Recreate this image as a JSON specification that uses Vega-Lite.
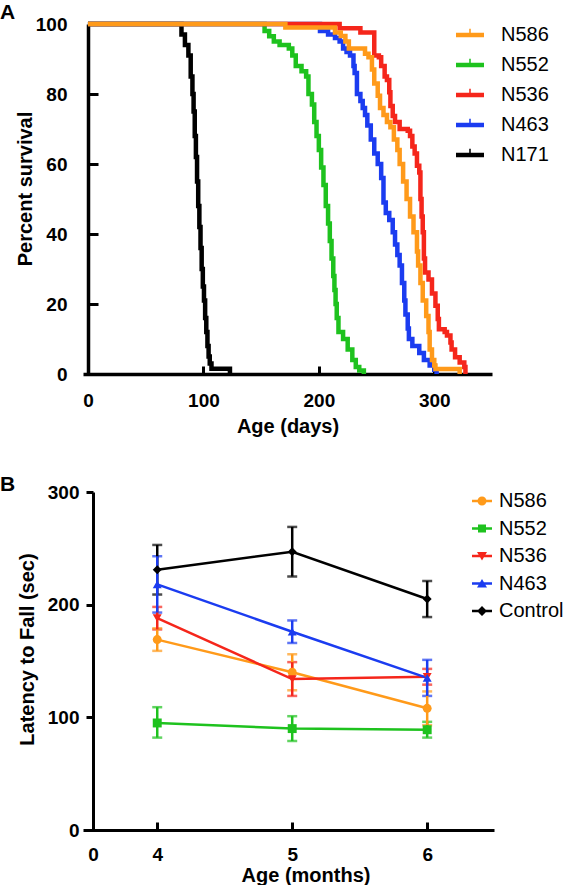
{
  "$schema": "https://vega.github.io/schema/vega-lite/v6.json",
  "padding": {"top": 2, "left": 0, "right": 0, "bottom": 0},
  "background": "white",
  "spacing": 37,
  "config": {
    "font": "Liberation Sans",
    "view": {"stroke": null},
    "axis": {"grid": false, "domainColor": "#000", "domainWidth": 3.5, "tickColor": "#000", "tickWidth": 3, "labelColor": "#000", "labelFont": "Liberation Sans", "labelFontSize": 19, "labelFontWeight": "bold", "titleColor": "#000", "titleFont": "Liberation Sans", "titleFontSize": 20, "titleFontWeight": "bold"},
    "legend": {"labelFont": "Liberation Sans", "labelFontSize": 20, "labelColor": "#000", "padding": 0},
    "title": {"font": "Liberation Sans", "fontSize": 21, "fontWeight": "bold", "color": "#000"}
  },
  "resolve": {"scale": {"color": "independent", "x": "independent", "y": "independent"}, "legend": {"color": "independent"}},
  "vconcat": [
    {
      "title": {"text": "A", "anchor": "start", "frame": "group", "dx": -83, "offset": -8},
      "width": 409,
      "height": 350,
      "data": {"values": [
        {"strain": "N171", "day": 0, "pct": 100}, {"strain": "N171", "day": 81, "pct": 97}, {"strain": "N171", "day": 84, "pct": 94}, {"strain": "N171", "day": 87, "pct": 91}, {"strain": "N171", "day": 89, "pct": 85}, {"strain": "N171", "day": 90.5, "pct": 80}, {"strain": "N171", "day": 91.5, "pct": 75}, {"strain": "N171", "day": 92.5, "pct": 68}, {"strain": "N171", "day": 93.5, "pct": 62}, {"strain": "N171", "day": 94.5, "pct": 55}, {"strain": "N171", "day": 95.5, "pct": 48}, {"strain": "N171", "day": 96.5, "pct": 42}, {"strain": "N171", "day": 97.5, "pct": 36}, {"strain": "N171", "day": 98.5, "pct": 30}, {"strain": "N171", "day": 99.5, "pct": 25}, {"strain": "N171", "day": 100.5, "pct": 21}, {"strain": "N171", "day": 101.5, "pct": 16}, {"strain": "N171", "day": 102.5, "pct": 12}, {"strain": "N171", "day": 103.5, "pct": 8}, {"strain": "N171", "day": 104.5, "pct": 5}, {"strain": "N171", "day": 105.5, "pct": 3}, {"strain": "N171", "day": 107, "pct": 1.5}, {"strain": "N171", "day": 123, "pct": 0},
        {"strain": "N552", "day": 0, "pct": 100}, {"strain": "N552", "day": 153, "pct": 98}, {"strain": "N552", "day": 157, "pct": 96.5}, {"strain": "N552", "day": 161, "pct": 95}, {"strain": "N552", "day": 166, "pct": 94}, {"strain": "N552", "day": 174, "pct": 93}, {"strain": "N552", "day": 177, "pct": 91}, {"strain": "N552", "day": 180, "pct": 88}, {"strain": "N552", "day": 185, "pct": 86.5}, {"strain": "N552", "day": 189, "pct": 85}, {"strain": "N552", "day": 191, "pct": 80}, {"strain": "N552", "day": 194, "pct": 77}, {"strain": "N552", "day": 196, "pct": 72}, {"strain": "N552", "day": 198, "pct": 68}, {"strain": "N552", "day": 200, "pct": 64}, {"strain": "N552", "day": 202, "pct": 59}, {"strain": "N552", "day": 204, "pct": 54}, {"strain": "N552", "day": 206, "pct": 48}, {"strain": "N552", "day": 208, "pct": 43}, {"strain": "N552", "day": 209.5, "pct": 38}, {"strain": "N552", "day": 211, "pct": 33}, {"strain": "N552", "day": 212.5, "pct": 28}, {"strain": "N552", "day": 213.5, "pct": 24}, {"strain": "N552", "day": 214.5, "pct": 20}, {"strain": "N552", "day": 215.5, "pct": 16}, {"strain": "N552", "day": 217, "pct": 12}, {"strain": "N552", "day": 221, "pct": 10}, {"strain": "N552", "day": 225, "pct": 7}, {"strain": "N552", "day": 229, "pct": 4}, {"strain": "N552", "day": 232, "pct": 2}, {"strain": "N552", "day": 235, "pct": 1}, {"strain": "N552", "day": 239, "pct": 0},
        {"strain": "N463", "day": 0, "pct": 100}, {"strain": "N463", "day": 201, "pct": 98}, {"strain": "N463", "day": 208, "pct": 97}, {"strain": "N463", "day": 214, "pct": 96}, {"strain": "N463", "day": 218, "pct": 95}, {"strain": "N463", "day": 221, "pct": 93}, {"strain": "N463", "day": 224, "pct": 92}, {"strain": "N463", "day": 227, "pct": 91}, {"strain": "N463", "day": 230, "pct": 88}, {"strain": "N463", "day": 231, "pct": 86}, {"strain": "N463", "day": 233, "pct": 80}, {"strain": "N463", "day": 236, "pct": 78}, {"strain": "N463", "day": 238, "pct": 76}, {"strain": "N463", "day": 240, "pct": 74}, {"strain": "N463", "day": 242, "pct": 71}, {"strain": "N463", "day": 245, "pct": 67}, {"strain": "N463", "day": 248, "pct": 63}, {"strain": "N463", "day": 251, "pct": 60}, {"strain": "N463", "day": 254, "pct": 56}, {"strain": "N463", "day": 256, "pct": 49}, {"strain": "N463", "day": 258, "pct": 46}, {"strain": "N463", "day": 261, "pct": 44}, {"strain": "N463", "day": 264, "pct": 40.5}, {"strain": "N463", "day": 266, "pct": 37}, {"strain": "N463", "day": 268, "pct": 34}, {"strain": "N463", "day": 270, "pct": 31}, {"strain": "N463", "day": 272, "pct": 26}, {"strain": "N463", "day": 274, "pct": 21}, {"strain": "N463", "day": 275, "pct": 17}, {"strain": "N463", "day": 277, "pct": 13}, {"strain": "N463", "day": 278, "pct": 10}, {"strain": "N463", "day": 281, "pct": 8}, {"strain": "N463", "day": 287, "pct": 6}, {"strain": "N463", "day": 291, "pct": 4}, {"strain": "N463", "day": 296, "pct": 2.4}, {"strain": "N463", "day": 300, "pct": 1.2}, {"strain": "N463", "day": 302, "pct": 0},
        {"strain": "N536", "day": 0, "pct": 100}, {"strain": "N536", "day": 218, "pct": 98.8}, {"strain": "N536", "day": 236, "pct": 97.6}, {"strain": "N536", "day": 248, "pct": 91}, {"strain": "N536", "day": 252, "pct": 90.5}, {"strain": "N536", "day": 254, "pct": 88}, {"strain": "N536", "day": 257, "pct": 85}, {"strain": "N536", "day": 259, "pct": 84}, {"strain": "N536", "day": 261, "pct": 80.5}, {"strain": "N536", "day": 262, "pct": 76.6}, {"strain": "N536", "day": 264, "pct": 73.7}, {"strain": "N536", "day": 266, "pct": 72}, {"strain": "N536", "day": 270, "pct": 70}, {"strain": "N536", "day": 277, "pct": 69.5}, {"strain": "N536", "day": 279, "pct": 68}, {"strain": "N536", "day": 281, "pct": 65}, {"strain": "N536", "day": 283, "pct": 63}, {"strain": "N536", "day": 285, "pct": 59.5}, {"strain": "N536", "day": 287, "pct": 57.6}, {"strain": "N536", "day": 288, "pct": 50}, {"strain": "N536", "day": 289, "pct": 45}, {"strain": "N536", "day": 290, "pct": 40.5}, {"strain": "N536", "day": 291, "pct": 33}, {"strain": "N536", "day": 292, "pct": 29}, {"strain": "N536", "day": 295, "pct": 27}, {"strain": "N536", "day": 298, "pct": 23}, {"strain": "N536", "day": 301, "pct": 19.5}, {"strain": "N536", "day": 303, "pct": 15.7}, {"strain": "N536", "day": 304, "pct": 12.8}, {"strain": "N536", "day": 309, "pct": 12}, {"strain": "N536", "day": 311, "pct": 11}, {"strain": "N536", "day": 314, "pct": 9}, {"strain": "N536", "day": 315, "pct": 7}, {"strain": "N536", "day": 318, "pct": 4.8}, {"strain": "N536", "day": 322, "pct": 3.3}, {"strain": "N536", "day": 326, "pct": 2}, {"strain": "N536", "day": 327, "pct": 0},
        {"strain": "N586", "day": 0, "pct": 100}, {"strain": "N586", "day": 171, "pct": 99}, {"strain": "N586", "day": 214, "pct": 97.6}, {"strain": "N586", "day": 219, "pct": 96.6}, {"strain": "N586", "day": 223, "pct": 95}, {"strain": "N586", "day": 226, "pct": 93}, {"strain": "N586", "day": 240, "pct": 91.5}, {"strain": "N586", "day": 243, "pct": 90.5}, {"strain": "N586", "day": 246, "pct": 87}, {"strain": "N586", "day": 248, "pct": 83}, {"strain": "N586", "day": 251, "pct": 79.5}, {"strain": "N586", "day": 253, "pct": 76}, {"strain": "N586", "day": 256, "pct": 74}, {"strain": "N586", "day": 259, "pct": 72}, {"strain": "N586", "day": 262, "pct": 70.5}, {"strain": "N586", "day": 265, "pct": 67}, {"strain": "N586", "day": 268, "pct": 64}, {"strain": "N586", "day": 270, "pct": 60}, {"strain": "N586", "day": 273, "pct": 55}, {"strain": "N586", "day": 276, "pct": 50}, {"strain": "N586", "day": 279, "pct": 45}, {"strain": "N586", "day": 282, "pct": 40.5}, {"strain": "N586", "day": 285, "pct": 35}, {"strain": "N586", "day": 286, "pct": 31}, {"strain": "N586", "day": 288, "pct": 26}, {"strain": "N586", "day": 290, "pct": 21}, {"strain": "N586", "day": 293, "pct": 16.6}, {"strain": "N586", "day": 295, "pct": 12}, {"strain": "N586", "day": 296, "pct": 7}, {"strain": "N586", "day": 298, "pct": 4}, {"strain": "N586", "day": 300, "pct": 2.4}, {"strain": "N586", "day": 301, "pct": 1.4}, {"strain": "N586", "day": 322, "pct": 0}
      ]},
      "mark": {"type": "line", "interpolate": "step-after", "strokeWidth": 4.5},
      "encoding": {
        "x": {"field": "day", "type": "quantitative", "scale": {"domain": [-4.3, 350], "nice": false, "zero": false},
              "axis": {"title": "Age (days)", "values": [0, 100, 200, 300], "format": "d", "tickSize": -8, "labelPadding": 25.6, "titlePadding": 6}},
        "y": {"field": "pct", "type": "quantitative", "scale": {"domain": [0, 100], "nice": false},
              "axis": {"title": "Percent survival", "values": [0, 20, 40, 60, 80, 100], "tickSize": -10, "labelPadding": 31, "offset": -5, "titlePadding": 0, "titleY": 164.5}},
        "color": {"field": "strain", "type": "nominal",
                  "scale": {"domain": ["N586", "N552", "N536", "N463", "N171"], "range": ["#FF9A1A", "#1EC21E", "#F5261B", "#1B3CF0", "#000000"]},
                  "legend": {"title": null, "orient": "none", "legendX": 373, "legendY": -3, "symbolSize": 784, "symbolStrokeWidth": 0, "labelOffset": 17, "rowPadding": 6,
                             "symbolType": "M-1,-0.16H1V0.16H-1Z M-0.055,-0.45H0.055V-0.16H-0.055Z",
                             "encode": {"symbols": {"update": {"shape": {"value": "M-1,-0.16H1V0.16H-1Z M-0.055,-0.45H0.055V-0.16H-0.055Z"}, "fill": {"signal": "datum.value === 'N586' ? '#FF9A1A' : datum.value === 'N552' ? '#1EC21E' : datum.value === 'N536' ? '#F5261B' : datum.value === 'N463' ? '#1B3CF0' : '#000000'"}, "strokeWidth": {"value": 0}, "opacity": {"value": 1}}}}}}
      }
    },
    {
      "title": {"text": "B", "anchor": "start", "frame": "group", "dx": -83, "offset": -12},
      "width": 411,
      "height": 338,
      "data": {"values": [
        {"group": "Control", "month": 4, "mean": 231, "lo": 209, "hi": 253},
        {"group": "Control", "month": 5, "mean": 247, "lo": 225, "hi": 269},
        {"group": "Control", "month": 6, "mean": 205, "lo": 189, "hi": 221},
        {"group": "N552", "month": 4, "mean": 95, "lo": 82, "hi": 109},
        {"group": "N552", "month": 5, "mean": 90, "lo": 79, "hi": 101},
        {"group": "N552", "month": 6, "mean": 89, "lo": 82, "hi": 96},
        {"group": "N586", "month": 4, "mean": 169, "lo": 159, "hi": 179},
        {"group": "N586", "month": 5, "mean": 140, "lo": 124, "hi": 156},
        {"group": "N586", "month": 6, "mean": 108, "lo": 93, "hi": 123},
        {"group": "N536", "month": 4, "mean": 188, "lo": 178, "hi": 198},
        {"group": "N536", "month": 5, "mean": 134, "lo": 119, "hi": 149},
        {"group": "N536", "month": 6, "mean": 136, "lo": 129, "hi": 143},
        {"group": "N463", "month": 4, "mean": 218, "lo": 193, "hi": 243},
        {"group": "N463", "month": 5, "mean": 176, "lo": 166, "hi": 186},
        {"group": "N463", "month": 6, "mean": 135, "lo": 119, "hi": 151}
      ]},
      "encoding": {
        "x": {"field": "month", "type": "quantitative", "scale": {"domain": [3.45, 6.495], "nice": false, "zero": false},
              "axis": {"title": "Age (months)", "values": [3.524, 4, 5, 6], "labelExpr": "datum.value < 3.9 ? '0' : format(datum.value, 'd')", "tickSize": -8, "labelPadding": 23, "titlePadding": 1, "titleX": 222.5, "domainWidth": 3}},
        "color": {"field": "group", "type": "nominal",
                  "scale": {"domain": ["N586", "N552", "N536", "N463", "Control"], "range": ["#FF9A1A", "#1EC21E", "#F5261B", "#1B3CF0", "#000000"]},
                  "legend": {"title": null, "orient": "none", "legendX": 389, "legendY": -1, "symbolSize": 400, "symbolStrokeWidth": 0, "labelOffset": 7, "rowPadding": 7.5,
                             "encode": {"symbols": {"update": {
                               "shape": {"signal": "datum.value === 'N586' ? 'M-1,-0.125H1V0.125H-1Z M-0.45,0A0.45,0.45 0 1,1 0.45,0A0.45,0.45 0 1,1 -0.45,0Z' : datum.value === 'N552' ? 'M-1,-0.125H1V0.125H-1Z M-0.4,-0.4H0.4V0.4H-0.4Z' : datum.value === 'N536' ? 'M-1,-0.125H1V0.125H-1Z M-0.5,-0.4H0.5L0,0.45Z' : datum.value === 'N463' ? 'M-1,-0.125H1V0.125H-1Z M0,-0.45L0.5,0.4H-0.5Z' : 'M-1,-0.125H1V0.125H-1Z M0,-0.5L0.5,0L0,0.5L-0.5,0Z'"},
                               "fill": {"signal": "datum.value === 'N586' ? '#FF9A1A' : datum.value === 'N552' ? '#1EC21E' : datum.value === 'N536' ? '#F5261B' : datum.value === 'N463' ? '#1B3CF0' : '#000000'"},
                               "strokeWidth": {"value": 0}, "opacity": {"value": 1}}}}}}
      },
      "layer": [
        {"mark": {"type": "line", "strokeWidth": 2.5},
         "encoding": {"y": {"field": "mean", "type": "quantitative", "scale": {"domain": [0, 300], "nice": false},
                            "axis": {"title": "Latency to Fall (sec)", "values": [0, 100, 200, 300], "tickSize": 7, "labelPadding": 7, "offset": -10, "titlePadding": 10, "titleY": 157, "domainWidth": 3}}}},
        {"mark": {"type": "errorbar", "ticks": true, "size": 10, "thickness": 2.5},
         "encoding": {"y": {"field": "lo", "type": "quantitative", "title": "Latency to Fall (sec)"}, "y2": {"field": "hi"}}},
        {"mark": {"type": "point", "filled": true, "size": 80, "opacity": 1},
         "encoding": {"y": {"field": "mean", "type": "quantitative"},
                      "shape": {"condition": [
                        {"test": "datum.group === 'N586'", "value": "circle"},
                        {"test": "datum.group === 'N552'", "value": "square"},
                        {"test": "datum.group === 'N536'", "value": "triangle-down"},
                        {"test": "datum.group === 'N463'", "value": "triangle-up"}
                      ], "value": "diamond"}}}
      ]
    }
  ]
}
